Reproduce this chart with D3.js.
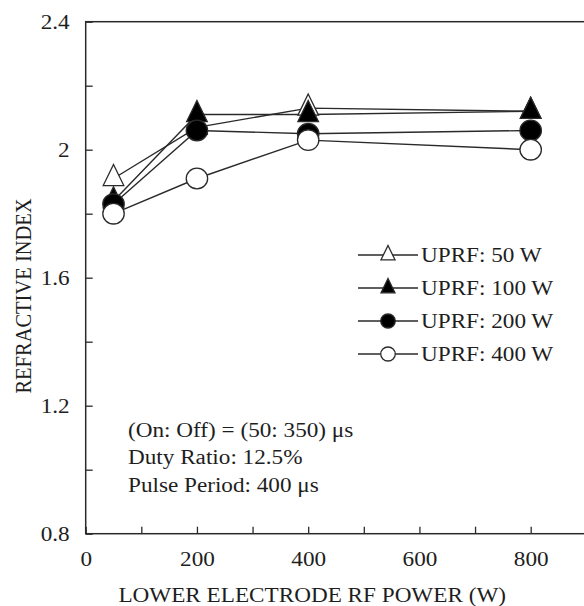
<!DOCTYPE html>
<html>
<head>
<meta charset="utf-8">
<script src="https://cdn.jsdelivr.net/npm/d3@7/dist/d3.min.js"></script>
<style>
  body { margin: 0; background: #fff; }
  text { font-family: "Liberation Serif", "Times New Roman", serif; fill: #1e1e1e; }
</style>
</head>
<body>
<svg id="chart"></svg>
<script>
"use strict"

// values
const powers = [50, 200, 400, 800]
const seriesNames = ["UPRF: 50 W", "UPRF: 100 W", "UPRF: 200 W", "UPRF: 400 W"]
const uprf50 = [1.91, 2.07, 2.13, 2.12]
const uprf100 = [1.84, 2.11, 2.11, 2.12]
const uprf200 = [1.83, 2.06, 2.05, 2.06]
const uprf400 = [1.80, 1.91, 2.03, 2.00]
const xTicks = [0, 200, 400, 600, 800]
const xMinor = [100, 300, 500, 700]
const yTicks = [0.8, 1.2, 1.6, 2.0, 2.4]
const yMinor = [1.0, 1.4, 1.8, 2.2]
const notes = ["(On: Off) = (50: 350) μs", "Duty Ratio: 12.5%", "Pulse Period: 400 μs"]

const W = 584, H = 606
const STRETCH = 1.16
const ink = "#2a2a2a"

const svg = d3.select("#chart").attr("width", W).attr("height", H)

const x = d3.scaleLinear().domain([0, 900]).range([85.7, 586.3])
const y = d3.scaleLinear().domain([0.8, 2.4]).range([533.7, 21.7])

// text in the source is a bit wide, so squeeze it through a transform
function stretch(sel) {
  sel.each(function () {
    const t = d3.select(this)
    const tx = +t.attr("x") || 0, ty = +t.attr("y") || 0
    t.attr("x", 0).attr("y", 0)
      .attr("transform", `translate(${tx},${ty}) scale(${STRETCH},1)`)
  })
}

// frame (right side falls outside the picture)
svg.append("rect")
  .attr("x", x(0)).attr("y", y(2.4))
  .attr("width", x(900) - x(0)).attr("height", y(0.8) - y(2.4))
  .attr("fill", "none").attr("stroke", ink).attr("stroke-width", 1.5)

// axes with inward ticks
const yAxis = svg.append("g")
  .attr("transform", `translate(${x(0)},0)`)
  .call(d3.axisLeft(y).tickValues(yTicks.concat(yMinor)).tickSize(-7)
    .tickFormat(d => yTicks.includes(d) ? d3.format("~g")(d) : ""))
yAxis.select(".domain").remove()
yAxis.selectAll("line").attr("stroke", ink).attr("stroke-width", 1.3)
yAxis.selectAll("text")
  .attr("x", -16).attr("dy", "0.34em")
  .attr("font-size", 20).attr("fill", "#1e1e1e").attr("font-family", null)
stretch(yAxis.selectAll("text"))

const xAxis = svg.append("g")
  .attr("transform", `translate(0,${y(0.8)})`)
  .call(d3.axisBottom(x).tickValues(xTicks.concat(xMinor)).tickSize(-7)
    .tickFormat(d => xTicks.includes(d) ? d : ""))
xAxis.select(".domain").remove()
xAxis.selectAll("line").attr("stroke", ink).attr("stroke-width", 1.3)
xAxis.selectAll("text")
  .attr("y", 25).attr("dy", "0.34em")
  .attr("font-size", 20).attr("fill", "#1e1e1e").attr("font-family", null)
stretch(xAxis.selectAll("text"))

// axis titles
svg.append("text")
  .attr("x", (85.7 + 530.7) / 2 + 4).attr("y", 595).attr("dy", "0.34em")
  .attr("text-anchor", "middle").attr("font-size", 20)
  .text("LOWER ELECTRODE RF POWER (W)")
  .call(stretch)

svg.append("text")
  .attr("transform", `translate(23,296) rotate(-90) scale(1,${STRETCH})`)
  .attr("text-anchor", "middle").attr("dy", "0.34em").attr("font-size", 20.5)
  .text("REFRACTIVE INDEX")

// series
const series = [
  { name: seriesNames[0], values: uprf50, shape: "tri", fill: "#fff" },
  { name: seriesNames[1], values: uprf100, shape: "tri", fill: "#000" },
  { name: seriesNames[2], values: uprf200, shape: "circ", fill: "#000" },
  { name: seriesNames[3], values: uprf400, shape: "circ", fill: "#fff" },
]

function marker(g, s, r) {
  if (s.shape === "tri") {
    const h = r * 2.05
    g.append("path")
      .attr("d", `M0,${-h * 2 / 3}L${r},${h / 3}L${-r},${h / 3}Z`)
      .attr("fill", s.fill).attr("stroke", ink).attr("stroke-width", 1.3)
  } else {
    g.append("ellipse").attr("rx", r * 1.04).attr("ry", r)
      .attr("fill", s.fill).attr("stroke", ink).attr("stroke-width", 1.3)
  }
}

const line = d3.line().x((d, i) => x(powers[i])).y(d => y(d))

series.forEach((s) => {
  svg.append("path")
    .attr("d", line(s.values))
    .attr("fill", "none").attr("stroke", ink).attr("stroke-width", 1.4)
})

series.forEach((s) => {
  s.values.forEach((v, i) => {
    const g = svg.append("g").attr("transform", `translate(${x(powers[i])},${y(v)})`)
    marker(g, s, 10.3)
  })
})

// legend
const legend = svg.append("g")
series.forEach((s, i) => {
  const cy = 255 + i * 33
  legend.append("line")
    .attr("x1", 358).attr("x2", 418).attr("y1", cy).attr("y2", cy)
    .attr("stroke", ink).attr("stroke-width", 1.4)
  const g = legend.append("g").attr("transform", `translate(388,${cy})`)
  marker(g, s, s.shape === "tri" ? 7 : 7)
  legend.append("text")
    .attr("x", 421).attr("y", cy).attr("dy", "0.34em").attr("font-size", 20)
    .text(s.name)
    .call(stretch)
})

// annotation
notes.forEach((n, i) => {
  svg.append("text")
    .attr("x", 128).attr("y", 430 + i * 27.5).attr("dy", "0.34em").attr("font-size", 20)
    .text(n)
    .call(stretch)
})
</script>
</body>
</html>
